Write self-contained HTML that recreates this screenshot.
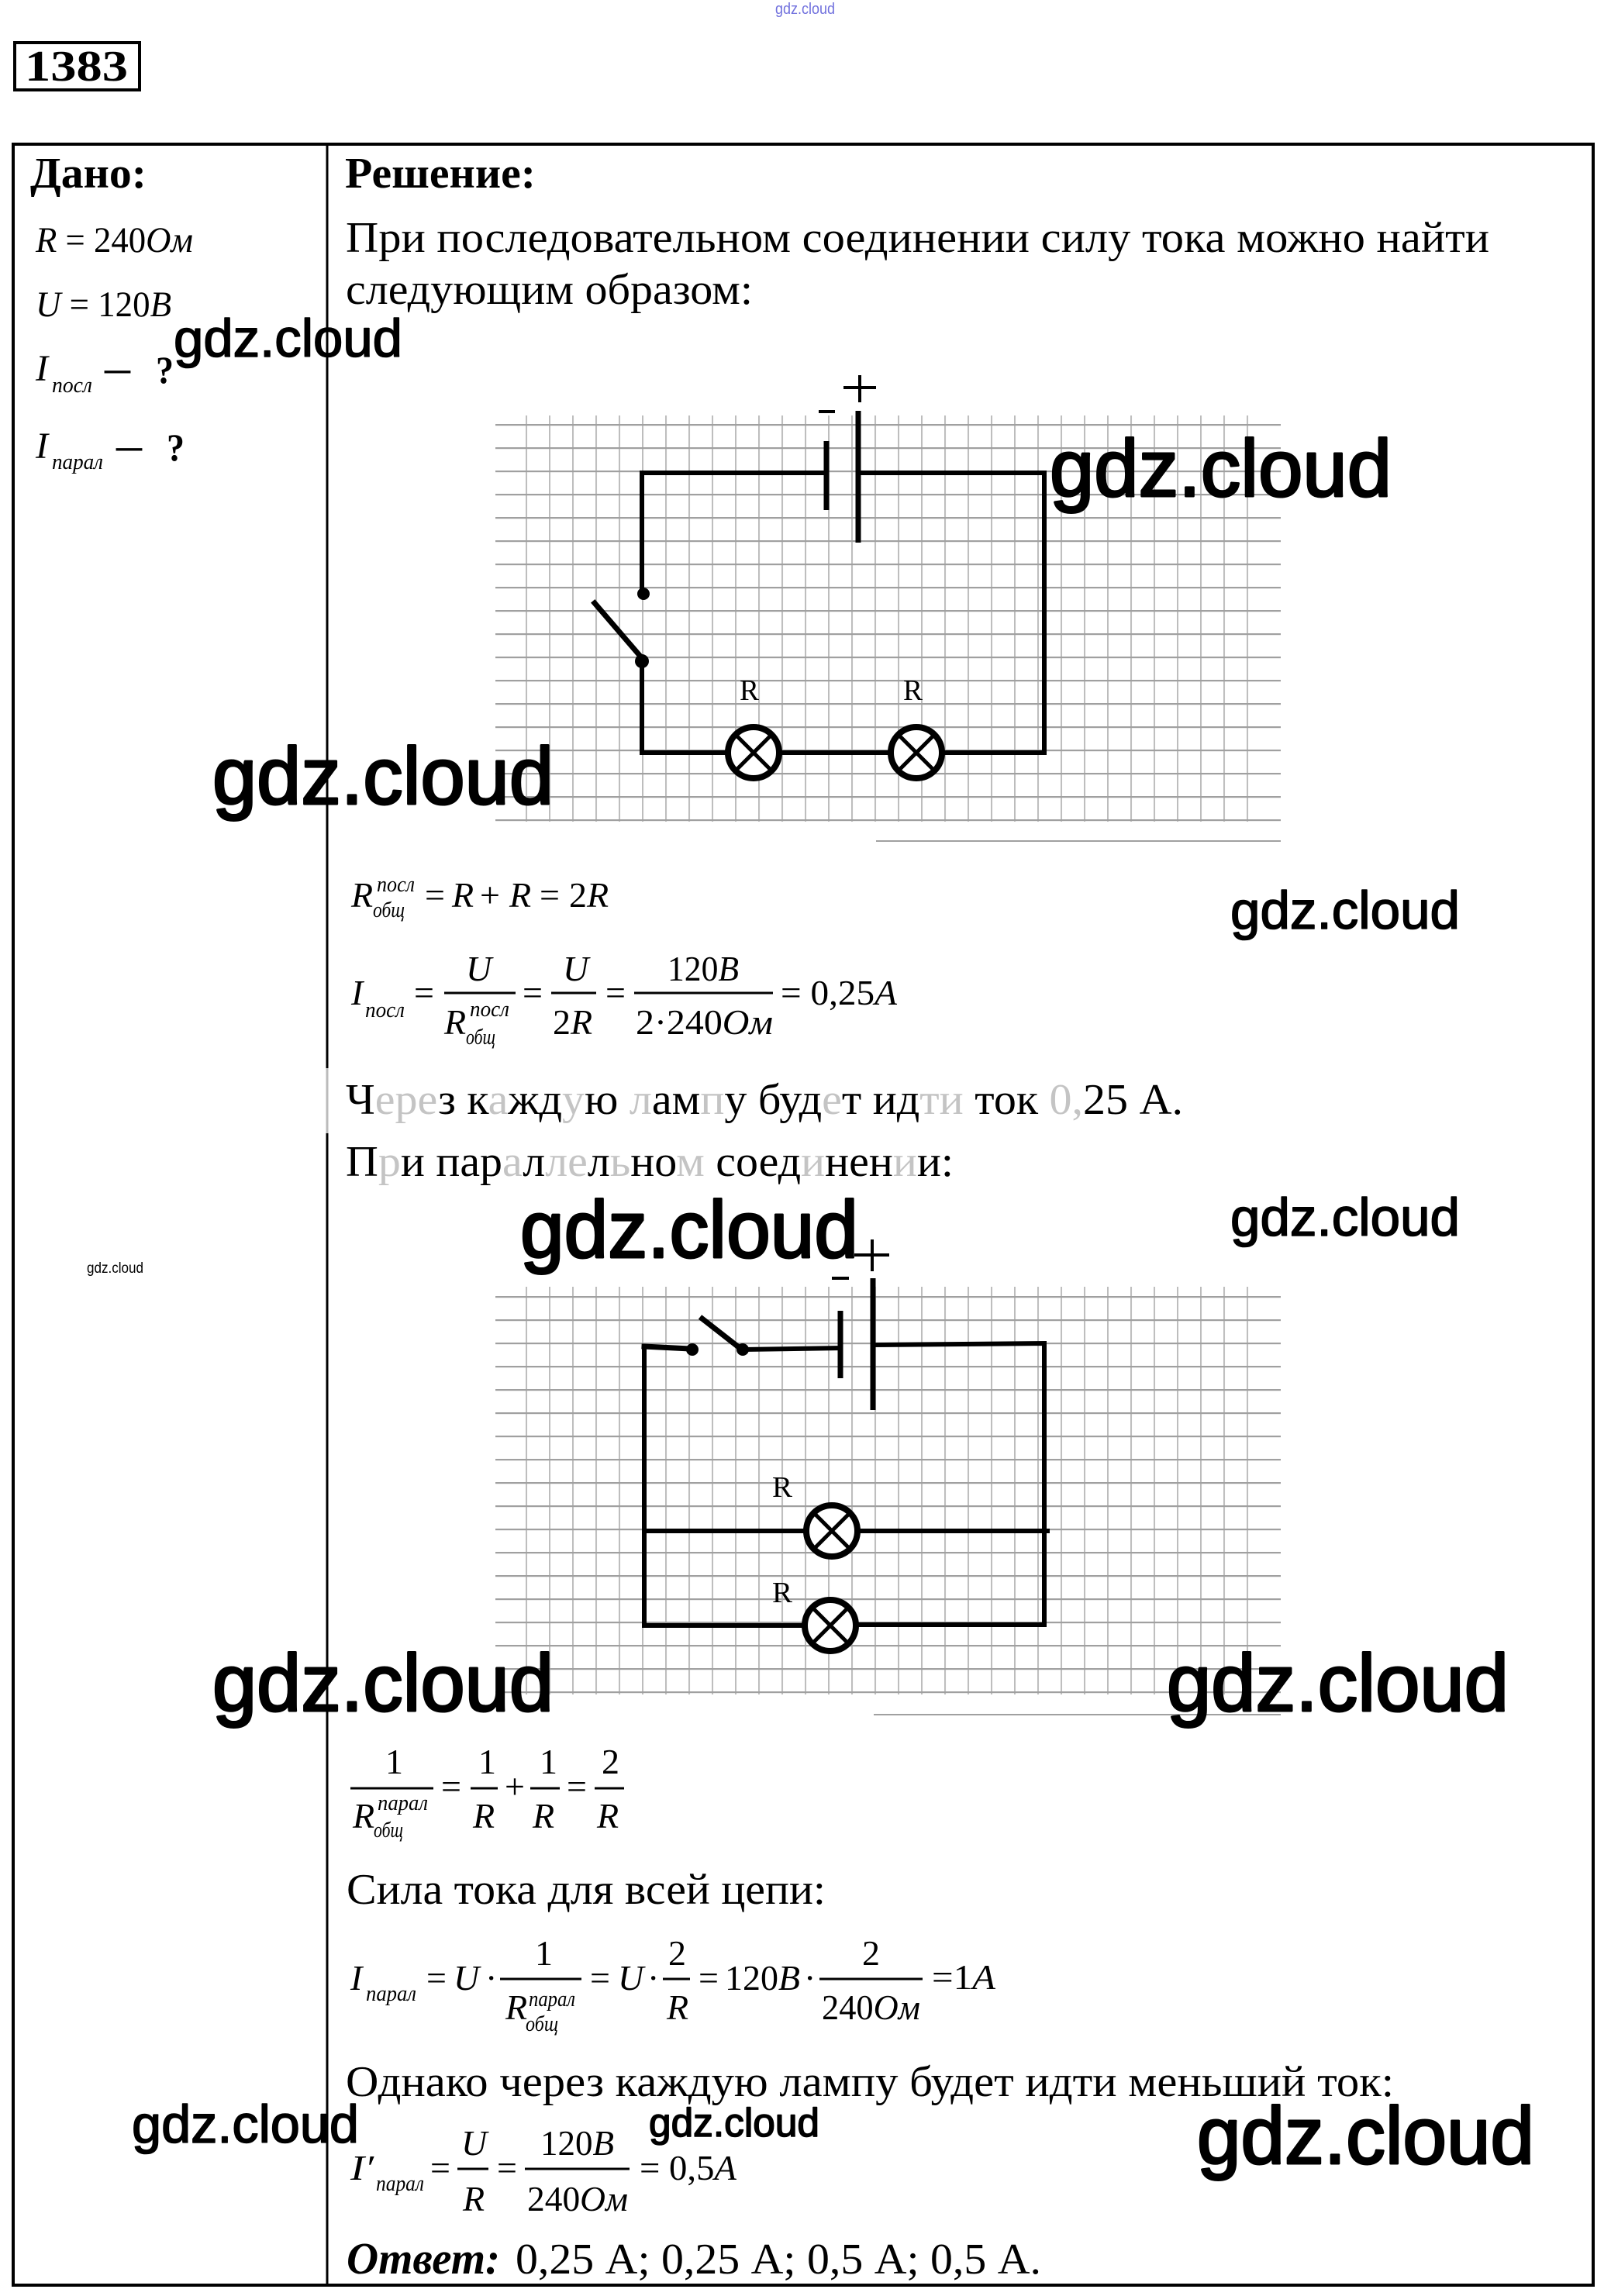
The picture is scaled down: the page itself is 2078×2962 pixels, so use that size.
<!DOCTYPE html>
<html>
<head>
<meta charset="utf-8">
<style>
html,body{margin:0;padding:0;background:#fff}
svg{display:block}
.s{font-family:"Liberation Serif","DejaVu Serif",serif;fill:#000}
.i{font-style:italic}
.b{font-weight:bold}
.w{font-family:"Liberation Sans","DejaVu Sans",sans-serif;fill:#000}
.wb{stroke:#000;stroke-width:3;stroke-linejoin:round}
.wm{stroke:#000;stroke-width:1.6;stroke-linejoin:round}
.g{fill:#c4c4c4}
</style>
</head>
<body>
<svg width="2078" height="2962" viewBox="0 0 2078 2962" xmlns="http://www.w3.org/2000/svg">
<defs>
  <pattern id="gv" x="678.2" y="0" width="30" height="20" patternUnits="userSpaceOnUse">
    <rect x="0" y="0" width="1.6" height="20" fill="#acacac"/>
  </pattern>
  <pattern id="gh1" x="0" y="547" width="40" height="30" patternUnits="userSpaceOnUse">
    <rect x="0" y="0" width="40" height="2.2" fill="#a0a0a0"/>
  </pattern>
  <pattern id="gh2" x="0" y="1672" width="40" height="30" patternUnits="userSpaceOnUse">
    <rect x="0" y="0" width="40" height="2.2" fill="#a0a0a0"/>
  </pattern>
</defs>
<rect x="0" y="0" width="2078" height="2962" fill="#fff"/>

<!-- top tiny watermark -->
<text class="w" x="1000" y="18" font-size="20" textLength="77" lengthAdjust="spacingAndGlyphs" style="fill:#7070dd">gdz.cloud</text>

<!-- problem number -->
<rect x="19" y="55" width="161" height="61" fill="none" stroke="#000" stroke-width="4"/>
<text class="s b" x="32" y="104" font-size="56" textLength="133" lengthAdjust="spacingAndGlyphs">1383</text>

<!-- table -->
<rect x="17" y="186" width="2038" height="2762" fill="none" stroke="#000" stroke-width="4"/>
<line x1="422" y1="186" x2="422" y2="1378" stroke="#000" stroke-width="3"/>
<line x1="422" y1="1378" x2="422" y2="1462" stroke="#bbb" stroke-width="3"/>
<line x1="422" y1="1462" x2="422" y2="2948" stroke="#000" stroke-width="3"/>

<!-- Дано -->
<text class="s b" x="39" y="242" font-size="56" textLength="150" lengthAdjust="spacingAndGlyphs">Дано:</text>
<text class="s" x="46" y="325" font-size="47" textLength="203" lengthAdjust="spacingAndGlyphs"><tspan class="i">R</tspan> = 240<tspan class="i">Ом</tspan></text>
<text class="s" x="46" y="408" font-size="47" textLength="175" lengthAdjust="spacingAndGlyphs"><tspan class="i">U</tspan> = 120<tspan class="i">B</tspan></text>
<text class="s i" x="46" y="491" font-size="48">I</text>
<text class="s i" x="67" y="506" font-size="28" textLength="52" lengthAdjust="spacingAndGlyphs">посл</text>
<text class="s b" x="135" y="491" font-size="48" textLength="33" lengthAdjust="spacingAndGlyphs">–</text>
<text class="s b" x="201" y="494" font-size="50" textLength="23" lengthAdjust="spacingAndGlyphs">?</text>
<text class="s i" x="46" y="591" font-size="48">I</text>
<text class="s i" x="67" y="605" font-size="28" textLength="66" lengthAdjust="spacingAndGlyphs">парал</text>
<text class="s b" x="150" y="591" font-size="48" textLength="33" lengthAdjust="spacingAndGlyphs">–</text>
<text class="s b" x="215" y="594" font-size="50" textLength="23" lengthAdjust="spacingAndGlyphs">?</text>
<text class="w" x="112" y="1642" font-size="19" textLength="73" lengthAdjust="spacingAndGlyphs">gdz.cloud</text>

<!-- Решение -->
<text class="s b" x="445" y="242" font-size="56" textLength="246" lengthAdjust="spacingAndGlyphs">Решение:</text>
<text class="s" x="446" y="325" font-size="56" textLength="1475" lengthAdjust="spacingAndGlyphs">При последовательном соединении силу тока можно найти</text>
<text class="s" x="446" y="392" font-size="56" textLength="525" lengthAdjust="spacingAndGlyphs">следующим образом:</text>

<!-- Circuit 1 grid -->
<rect x="678" y="536" width="934" height="524" fill="url(#gv)"/>
<rect x="639" y="547" width="1013" height="513" fill="url(#gh1)"/>
<line x1="1130" y1="1085" x2="1652" y2="1085" stroke="#a0a0a0" stroke-width="2"/>

<!-- Circuit 1 -->
<g stroke="#000" fill="none" stroke-width="6" stroke-linecap="square">
  <polyline points="1066,610 828,610 828,766"/>
  <polyline points="1107,610 1347,610 1347,971"/>
  <line x1="828" y1="853" x2="828" y2="971"/>
  <line x1="828" y1="971" x2="939" y2="971"/>
  <line x1="1005" y1="971" x2="1149" y2="971"/>
  <line x1="1215" y1="971" x2="1347" y2="971"/>
  <line x1="767" y1="778" x2="828" y2="849" stroke-width="7"/>
</g>
<line x1="1066" y1="569" x2="1066" y2="658" stroke="#000" stroke-width="7"/>
<line x1="1107" y1="530" x2="1107" y2="700" stroke="#000" stroke-width="7"/>
<circle cx="830" cy="766" r="8" fill="#000"/>
<circle cx="828" cy="853" r="9" fill="#000"/>
<g stroke="#000" fill="#fff" stroke-width="8">
  <circle cx="972" cy="971" r="33"/>
  <circle cx="1182" cy="971" r="33"/>
</g>
<g stroke="#000" stroke-width="5">
  <line x1="949" y1="948" x2="995" y2="994"/><line x1="995" y1="948" x2="949" y2="994"/>
  <line x1="1159" y1="948" x2="1205" y2="994"/><line x1="1205" y1="948" x2="1159" y2="994"/>
  <line x1="1088" y1="500" x2="1130" y2="500" stroke-width="4"/>
  <line x1="1109" y1="484" x2="1109" y2="519" stroke-width="4"/>
  <line x1="1056" y1="531" x2="1077" y2="531" stroke-width="4"/>
</g>
<text class="s" x="954" y="903" font-size="38" textLength="25" lengthAdjust="spacingAndGlyphs">R</text>
<text class="s" x="1165" y="903" font-size="38" textLength="25" lengthAdjust="spacingAndGlyphs">R</text>

<!-- R общ formula -->
<text class="s i" x="453" y="1170" font-size="46">R</text>
<text class="s i" x="486" y="1150" font-size="28" textLength="49" lengthAdjust="spacingAndGlyphs">посл</text>
<text class="s i" x="481" y="1183" font-size="28" textLength="41" lengthAdjust="spacingAndGlyphs">общ</text>
<text class="s" x="548" y="1170" font-size="46">=</text>
<text class="s i" x="583" y="1170" font-size="46">R</text>
<text class="s" x="619" y="1170" font-size="46">+</text>
<text class="s i" x="657" y="1170" font-size="46">R</text>
<text class="s" x="696" y="1170" font-size="46">=</text>
<text class="s" x="734" y="1170" font-size="46">2</text>
<text class="s i" x="757" y="1170" font-size="46">R</text>

<!-- I посл formula -->
<text class="s i" x="453" y="1296" font-size="46">I</text>
<text class="s i" x="471" y="1312" font-size="28" textLength="51" lengthAdjust="spacingAndGlyphs">посл</text>
<text class="s" x="534" y="1296" font-size="46">=</text>
<line x1="573" y1="1281" x2="665" y2="1281" stroke="#000" stroke-width="3"/>
<text class="s i" x="601" y="1265" font-size="46">U</text>
<text class="s i" x="573" y="1334" font-size="46">R</text>
<text class="s i" x="606" y="1311" font-size="28" textLength="51" lengthAdjust="spacingAndGlyphs">посл</text>
<text class="s i" x="601" y="1347" font-size="28" textLength="38" lengthAdjust="spacingAndGlyphs">общ</text>
<text class="s" x="674" y="1296" font-size="46">=</text>
<line x1="711" y1="1281" x2="769" y2="1281" stroke="#000" stroke-width="3"/>
<text class="s i" x="726" y="1265" font-size="46">U</text>
<text class="s" x="713" y="1334" font-size="46">2<tspan class="i">R</tspan></text>
<text class="s" x="781" y="1296" font-size="46">=</text>
<line x1="818" y1="1281" x2="997" y2="1281" stroke="#000" stroke-width="3"/>
<text class="s" x="861" y="1265" font-size="46" textLength="92" lengthAdjust="spacingAndGlyphs">120<tspan class="i">B</tspan></text>
<text class="s" x="820" y="1334" font-size="46" textLength="177" lengthAdjust="spacingAndGlyphs">2·240<tspan class="i">Ом</tspan></text>
<text class="s" x="1007" y="1296" font-size="46" textLength="150" lengthAdjust="spacingAndGlyphs">= 0,25<tspan class="i">A</tspan></text>

<text class="s" x="446" y="1437" font-size="56" textLength="1080" lengthAdjust="spacingAndGlyphs">Ч<tspan class="g">ере</tspan>з к<tspan class="g">а</tspan>жд<tspan class="g">у</tspan>ю <tspan class="g">л</tspan>ам<tspan class="g">п</tspan>у буд<tspan class="g">е</tspan>т ид<tspan class="g">ти</tspan> ток <tspan class="g">0,</tspan>25 А.</text>
<text class="s" x="446" y="1517" font-size="56" textLength="784" lengthAdjust="spacingAndGlyphs">П<tspan class="g">р</tspan>и пар<tspan class="g">а</tspan>л<tspan class="g">ле</tspan>л<tspan class="g">ь</tspan>но<tspan class="g">м</tspan> соед<tspan class="g">и</tspan>нен<tspan class="g">и</tspan>и:</text>

<!-- Circuit 2 grid -->
<rect x="678" y="1660" width="934" height="526" fill="url(#gv)"/>
<rect x="639" y="1672" width="1013" height="513" fill="url(#gh2)"/>
<line x1="1127" y1="2212" x2="1652" y2="2212" stroke="#a0a0a0" stroke-width="2"/>

<!-- Circuit 2 -->
<g stroke="#000" fill="none" stroke-width="6" stroke-linecap="square">
  <line x1="831" y1="1737" x2="890" y2="1740" stroke-width="7"/>
  <line x1="958" y1="1741" x2="1084" y2="1739"/>
  <polyline points="1126,1735 1347,1733 1347,2096"/>
  <line x1="831" y1="1737" x2="831" y2="2097"/>
  <line x1="831" y1="1975" x2="1042" y2="1975"/>
  <line x1="1104" y1="1975" x2="1351" y2="1975"/>
  <line x1="831" y1="2097" x2="1040" y2="2097"/>
  <line x1="1102" y1="2096" x2="1347" y2="2096"/>
  <line x1="903" y1="1699" x2="958" y2="1742" stroke-width="7" stroke-linecap="butt"/>
</g>
<line x1="1084" y1="1691" x2="1084" y2="1778" stroke="#000" stroke-width="7"/>
<line x1="1126" y1="1649" x2="1126" y2="1819" stroke="#000" stroke-width="7"/>
<circle cx="893" cy="1741" r="8" fill="#000"/>
<circle cx="958" cy="1741" r="8" fill="#000"/>
<g stroke="#000" fill="#fff" stroke-width="8">
  <circle cx="1073" cy="1975" r="33"/>
  <circle cx="1071" cy="2097" r="33"/>
</g>
<g stroke="#000" stroke-width="5">
  <line x1="1050" y1="1952" x2="1096" y2="1998"/><line x1="1096" y1="1952" x2="1050" y2="1998"/>
  <line x1="1048" y1="2074" x2="1094" y2="2120"/><line x1="1094" y1="2074" x2="1048" y2="2120"/>
  <line x1="1102" y1="1619" x2="1147" y2="1619" stroke-width="4"/>
  <line x1="1125" y1="1599" x2="1125" y2="1640" stroke-width="4"/>
  <line x1="1073" y1="1649" x2="1095" y2="1649" stroke-width="4"/>
</g>
<text class="s" x="996" y="1931" font-size="38" textLength="26" lengthAdjust="spacingAndGlyphs">R</text>
<text class="s" x="996" y="2067" font-size="38" textLength="26" lengthAdjust="spacingAndGlyphs">R</text>

<!-- 1/R formula -->
<line x1="452" y1="2307" x2="559" y2="2307" stroke="#000" stroke-width="3"/>
<text class="s" x="497" y="2288" font-size="46">1</text>
<text class="s i" x="455" y="2358" font-size="46">R</text>
<text class="s i" x="487" y="2335" font-size="28" textLength="65" lengthAdjust="spacingAndGlyphs">парал</text>
<text class="s i" x="482" y="2370" font-size="28" textLength="38" lengthAdjust="spacingAndGlyphs">общ</text>
<text class="s" x="569" y="2320" font-size="46">=</text>
<line x1="607" y1="2307" x2="642" y2="2307" stroke="#000" stroke-width="3"/>
<text class="s" x="617" y="2288" font-size="46">1</text>
<text class="s i" x="610" y="2358" font-size="46">R</text>
<text class="s" x="651" y="2320" font-size="46">+</text>
<line x1="684" y1="2307" x2="722" y2="2307" stroke="#000" stroke-width="3"/>
<text class="s" x="696" y="2288" font-size="46">1</text>
<text class="s i" x="687" y="2358" font-size="46">R</text>
<text class="s" x="731" y="2320" font-size="46">=</text>
<line x1="767" y1="2307" x2="805" y2="2307" stroke="#000" stroke-width="3"/>
<text class="s" x="776" y="2288" font-size="46">2</text>
<text class="s i" x="770" y="2358" font-size="46">R</text>

<text class="s" x="447" y="2456" font-size="56" textLength="618" lengthAdjust="spacingAndGlyphs">Сила тока для всей цепи:</text>

<!-- I парал formula -->
<text class="s i" x="452" y="2567" font-size="46">I</text>
<text class="s i" x="472" y="2581" font-size="28" textLength="65" lengthAdjust="spacingAndGlyphs">парал</text>
<text class="s" x="550" y="2567" font-size="46">=</text>
<text class="s i" x="585" y="2567" font-size="46">U</text>
<text class="s" x="626" y="2567" font-size="46">·</text>
<line x1="645" y1="2553" x2="750" y2="2553" stroke="#000" stroke-width="3"/>
<text class="s" x="690" y="2535" font-size="46">1</text>
<text class="s i" x="652" y="2605" font-size="46">R</text>
<text class="s i" x="682" y="2588" font-size="28" textLength="60" lengthAdjust="spacingAndGlyphs">парал</text>
<text class="s i" x="678" y="2620" font-size="28" textLength="42" lengthAdjust="spacingAndGlyphs">общ</text>
<text class="s" x="761" y="2567" font-size="46">=</text>
<text class="s i" x="797" y="2567" font-size="46">U</text>
<text class="s" x="835" y="2567" font-size="46">·</text>
<line x1="855" y1="2553" x2="890" y2="2553" stroke="#000" stroke-width="3"/>
<text class="s" x="862" y="2535" font-size="46">2</text>
<text class="s i" x="860" y="2605" font-size="46">R</text>
<text class="s" x="901" y="2567" font-size="46">=</text>
<text class="s" x="935" y="2567" font-size="46" textLength="97" lengthAdjust="spacingAndGlyphs">120<tspan class="i">B</tspan></text>
<text class="s" x="1037" y="2567" font-size="46">·</text>
<line x1="1057" y1="2553" x2="1190" y2="2553" stroke="#000" stroke-width="3"/>
<text class="s" x="1112" y="2535" font-size="46">2</text>
<text class="s" x="1060" y="2605" font-size="46" textLength="127" lengthAdjust="spacingAndGlyphs">240<tspan class="i">Ом</tspan></text>
<text class="s" x="1202" y="2566" font-size="46" textLength="82" lengthAdjust="spacingAndGlyphs">=1<tspan class="i">A</tspan></text>

<text class="s" x="446" y="2704" font-size="56" textLength="1352" lengthAdjust="spacingAndGlyphs">Однако через каждую лампу будет идти меньший ток:</text>

<!-- I' formula -->
<text class="s i" x="452" y="2812" font-size="46" textLength="30" lengthAdjust="spacingAndGlyphs">I′</text>
<text class="s i" x="485" y="2826" font-size="28" textLength="62" lengthAdjust="spacingAndGlyphs">парал</text>
<text class="s" x="555" y="2812" font-size="46">=</text>
<line x1="590" y1="2798" x2="630" y2="2798" stroke="#000" stroke-width="3"/>
<text class="s i" x="595" y="2780" font-size="46">U</text>
<text class="s i" x="597" y="2852" font-size="46">R</text>
<text class="s" x="641" y="2812" font-size="46">=</text>
<line x1="677" y1="2798" x2="812" y2="2798" stroke="#000" stroke-width="3"/>
<text class="s" x="697" y="2780" font-size="46" textLength="95" lengthAdjust="spacingAndGlyphs">120<tspan class="i">B</tspan></text>
<text class="s" x="680" y="2852" font-size="46" textLength="130" lengthAdjust="spacingAndGlyphs">240<tspan class="i">Ом</tspan></text>
<text class="s" x="825" y="2812" font-size="46" textLength="125" lengthAdjust="spacingAndGlyphs">= 0,5<tspan class="i">A</tspan></text>

<!-- Answer -->
<text class="s b i" x="447" y="2933" font-size="58" textLength="198" lengthAdjust="spacingAndGlyphs">Ответ:</text>
<text class="s" x="665" y="2933" font-size="56" textLength="678" lengthAdjust="spacingAndGlyphs">0,25 А; 0,25 А; 0,5 А; 0,5 А.</text>

<!-- Watermarks -->
<text class="w wm" x="224" y="460" font-size="69" textLength="295" lengthAdjust="spacingAndGlyphs">gdz.cloud</text>
<text class="w wb" x="1354" y="640" font-size="104" textLength="441" lengthAdjust="spacingAndGlyphs">gdz.cloud</text>
<text class="w wb" x="274" y="1037" font-size="104" textLength="440" lengthAdjust="spacingAndGlyphs">gdz.cloud</text>
<text class="w wm" x="1587" y="1198" font-size="69" textLength="296" lengthAdjust="spacingAndGlyphs">gdz.cloud</text>
<text class="w wm" x="1587" y="1594" font-size="69" textLength="296" lengthAdjust="spacingAndGlyphs">gdz.cloud</text>
<text class="w wb" x="671" y="1622" font-size="104" textLength="436" lengthAdjust="spacingAndGlyphs">gdz.cloud</text>
<text class="w wb" x="274" y="2207" font-size="104" textLength="440" lengthAdjust="spacingAndGlyphs">gdz.cloud</text>
<text class="w wb" x="1505" y="2207" font-size="104" textLength="441" lengthAdjust="spacingAndGlyphs">gdz.cloud</text>
<text class="w wm" x="170" y="2764" font-size="69" textLength="293" lengthAdjust="spacingAndGlyphs">gdz.cloud</text>
<text class="w wm" x="837" y="2756" font-size="52" textLength="220" lengthAdjust="spacingAndGlyphs">gdz.cloud</text>
<text class="w wb" x="1544" y="2791" font-size="104" textLength="435" lengthAdjust="spacingAndGlyphs">gdz.cloud</text>
</svg>
</body>
</html>
